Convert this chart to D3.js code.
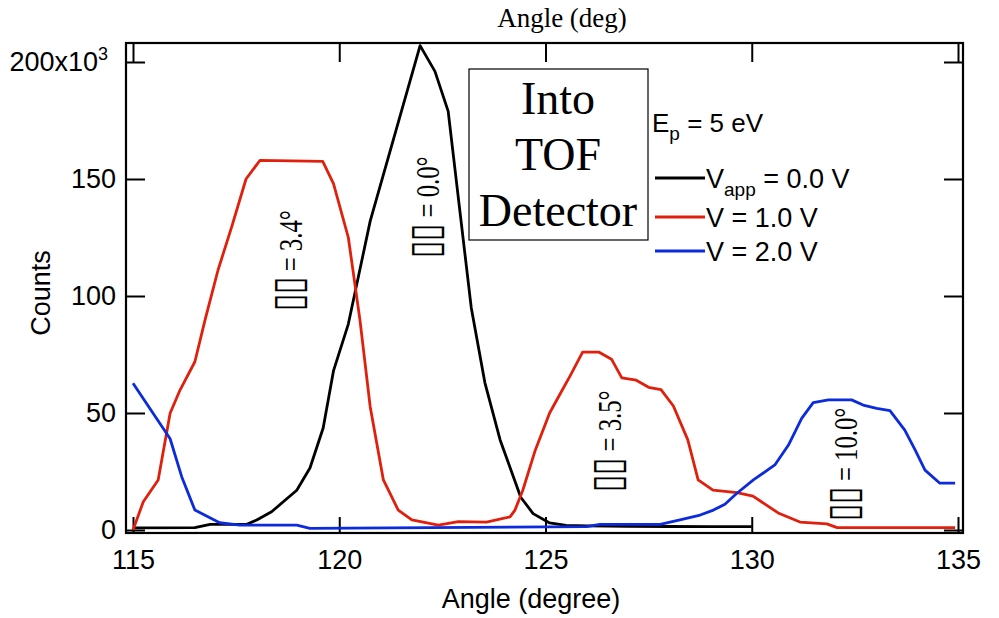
<!DOCTYPE html>
<html>
<head>
<meta charset="utf-8">
<script src="https://cdn.jsdelivr.net/npm/d3@7"></script>
<style>
  html, body { margin: 0; padding: 0; background: #fff; }
  svg { display: block; }
  .sans { font-family: "Liberation Sans", Arial, sans-serif; }
  .serif { font-family: "Liberation Serif", "Times New Roman", serif; }
</style>
</head>
<body>
<svg id="chart" width="999" height="618"></svg>
<script>
// ---------------- data ----------------
const xTicks = [115, 120, 125, 130, 135];
const yTicks = [0, 50, 100, 150, 200];
const yTickLabels = ["0", "50", "100", "150", "200x10"];

// V_app = 0.0 V (black)
const angles0 = [115.0, 116.5, 116.87, 117.76, 118.0, 118.36, 118.97, 119.29, 119.61, 119.86, 120.22, 120.75, 121.96, 122.32, 122.64, 123.2, 123.53, 123.9, 124.4, 124.7, 125.1, 125.5, 126.0, 127.0, 128.0, 129.0, 130.0];
const counts0 = [0.9, 1.0, 2.4, 2.4, 4.3, 7.8, 17, 26.5, 43.6, 68, 88, 132, 207, 196, 179, 95, 63, 38.5, 14, 7, 3, 2, 1.8, 1.6, 1.5, 1.4, 1.4];

// V = 1.0 V (red)
const angles1 = [115.0, 115.25, 115.61, 115.9, 116.14, 116.5, 116.75, 117.06, 117.4, 117.74, 118.08, 119.6, 119.86, 120.22, 120.5, 120.75, 121.07, 121.43, 121.76, 122.4, 122.89, 123.57, 124.14, 124.26, 124.45, 124.75, 125.1, 125.35, 125.6, 125.9, 126.3, 126.6, 126.85, 127.2, 127.5, 127.8, 128.1, 128.45, 128.7, 129.06, 129.64, 130.03, 130.64, 131.17, 131.82, 132.07, 134.93];
const counts1 = [0, 12.1, 21.4, 49.9, 59.8, 71.9, 90, 111, 130, 150, 158, 157.5, 148, 125, 90, 52.7, 21.4, 8.5, 4.3, 2.1, 3.6, 3.4, 5.6, 8.5, 17, 34, 50, 58, 66, 76, 76, 73, 65, 64, 61, 60, 53, 38.5, 21.4, 17, 16, 14.5, 7.3, 3.4, 2.6, 1.0, 1.0];

// V = 2.0 V (blue)
const angles2 = [115.0, 115.9, 116.18, 116.5, 117.1, 117.59, 118.97, 119.29, 126.0, 126.32, 127.78, 128.26, 128.75, 129.07, 129.35, 129.64, 130.04, 130.56, 130.89, 131.21, 131.49, 131.86, 132.42, 132.7, 133.03, 133.35, 133.71, 133.96, 134.2, 134.56, 134.93];
const counts2 = [62.7, 39, 22.8, 8.5, 3.1, 2.1, 2.1, 0.7, 1.4, 2.4, 2.4, 4.3, 6.4, 8.5, 11, 15.7, 21.4, 27.8, 36.3, 47.7, 54.4, 55.6, 55.6, 53.4, 52.0, 51, 42.7, 34.2, 25.6, 20, 20];

const seriesColors = ["#000000", "#e0200c", "#0b2bdc"];

const annotSymbol = "▯▯";
const annotations = [
  { label: " = 0.0°", angle: 122.15, count: 138 },
  { label: " = 3.4°", angle: 118.81, count: 115 },
  { label: " = 3.5°", angle: 126.54, count: 38 },
  { label: " = 10.0°", angle: 132.26, count: 28 }
];

// ---------------- layout ----------------
const svg = d3.select("#chart");
const frame = { left: 126, right: 963, top: 43, bottom: 533 };
const x = d3.scaleLinear().domain([115, 135]).range([133, 958]);
const y = d3.scaleLinear().domain([0, 150]).range([530, 179]);

// frame
svg.append("rect")
  .attr("x", frame.left).attr("y", frame.top)
  .attr("width", frame.right - frame.left).attr("height", frame.bottom - frame.top)
  .attr("fill", "none").attr("stroke", "#000").attr("stroke-width", 2.2);

// bottom axis
const gB = svg.append("g").attr("class", "sans")
  .attr("transform", `translate(0,${frame.bottom})`)
  .call(d3.axisBottom(x).tickValues(xTicks).tickSize(-16).tickPadding(17).tickFormat(d3.format("d")));
gB.select(".domain").remove();
gB.selectAll(".tick line").attr("stroke", "#000").attr("stroke-width", 2);
gB.selectAll(".tick text").attr("font-size", 27).attr("font-family", "Liberation Sans, Arial, sans-serif").attr("fill", "#000");

// top axis (ticks only)
const gT = svg.append("g")
  .attr("transform", `translate(0,${frame.top})`)
  .call(d3.axisTop(x).tickValues(xTicks).tickSize(-19).tickFormat(""));
gT.select(".domain").remove();
gT.selectAll(".tick line").attr("stroke", "#000").attr("stroke-width", 2);

// left axis
const gL = svg.append("g")
  .attr("transform", `translate(${frame.left},0)`)
  .call(d3.axisLeft(y).tickValues(yTicks).tickSize(-19).tickPadding(10)
    .tickFormat((d, i) => yTickLabels[i]));
gL.select(".domain").remove();
gL.selectAll(".tick line").attr("stroke", "#000").attr("stroke-width", 2);
gL.selectAll(".tick text").attr("font-size", 27).attr("font-family", "Liberation Sans, Arial, sans-serif").attr("fill", "#000");
gL.selectAll(".tick text").filter(d => d === 200)
  .attr("dx", -8)
  .append("tspan").attr("font-size", 18).attr("dy", -11).text("3");

// right axis (ticks only)
const gR = svg.append("g")
  .attr("transform", `translate(${frame.right},0)`)
  .call(d3.axisRight(y).tickValues(yTicks).tickSize(-19).tickFormat(""));
gR.select(".domain").remove();
gR.selectAll(".tick line").attr("stroke", "#000").attr("stroke-width", 2);

// axis titles
svg.append("text").attr("class", "sans")
  .attr("x", 531).attr("y", 608).attr("text-anchor", "middle")
  .attr("font-size", 27).text("Angle (degree)");
svg.append("text").attr("class", "sans")
  .attr("transform", "translate(50,293) rotate(-90)")
  .attr("text-anchor", "middle").attr("font-size", 27).text("Counts");
svg.append("text").attr("class", "serif")
  .attr("x", 562).attr("y", 27).attr("text-anchor", "middle")
  .attr("font-size", 27).text("Angle (deg)");

// ---------------- lines ----------------
const line = d3.line().x(d => x(d[0])).y(d => y(d[1]));
const allSeries = [
  d3.zip(angles0, counts0),
  d3.zip(angles1, counts1),
  d3.zip(angles2, counts2)
];
allSeries.forEach((s, i) => {
  svg.append("path").datum(s)
    .attr("d", line)
    .attr("fill", "none")
    .attr("stroke", seriesColors[i])
    .attr("stroke-width", 2.8)
    .attr("stroke-linejoin", "round");
});

// ---------------- annotations ----------------
annotations.forEach(a => {
  const t = svg.append("text").attr("class", "serif")
    .attr("transform", `translate(${x(a.angle)},${y(a.count)}) rotate(-90) scale(0.75,1)`)
    .attr("text-anchor", "middle").attr("dy", "0.35em")
    .attr("font-size", 33).attr("fill", "#000");
  t.append("tspan").attr("font-size", 42).attr("font-family", "DejaVu Sans, sans-serif")
    .attr("font-weight", "300").text(annotSymbol);
  t.append("tspan").text(a.label);
});

// ---------------- box ----------------
svg.append("rect")
  .attr("x", 469).attr("y", 69).attr("width", 179).attr("height", 171)
  .attr("fill", "#fff").attr("stroke", "#000").attr("stroke-width", 1.2);
const boxLines = ["Into", "TOF", "Detector"];
boxLines.forEach((t, i) => {
  svg.append("text").attr("class", "serif")
    .attr("x", 558).attr("y", 114 + i * 56)
    .attr("text-anchor", "middle").attr("font-size", 46).text(t);
});

// ---------------- legend ----------------
const ep = svg.append("text").attr("class", "sans")
  .attr("x", 652).attr("y", 132).attr("font-size", 26);
ep.append("tspan").text("E");
ep.append("tspan").attr("font-size", 19).attr("dy", 8).text("p");
ep.append("tspan").attr("dy", -8).text(" = 5 eV");

const legendY = [178, 217, 251];
const legendText = [
  ["V", "app", " = 0.0 V"],
  ["V", null, " = 1.0 V"],
  ["V", null, " = 2.0 V"]
];
legendText.forEach((parts, i) => {
  svg.append("line")
    .attr("x1", 655).attr("x2", 705)
    .attr("y1", legendY[i]).attr("y2", legendY[i])
    .attr("stroke", seriesColors[i]).attr("stroke-width", 2.8);
  const t = svg.append("text").attr("class", "sans")
    .attr("x", 706).attr("y", legendY[i] + 10).attr("font-size", 27);
  t.append("tspan").text(parts[0]);
  if (parts[1]) {
    t.append("tspan").attr("font-size", 19).attr("dy", 8).text(parts[1]);
    t.append("tspan").attr("dy", -8).text(parts[2]);
  } else {
    t.append("tspan").text(parts[2]);
  }
});
</script>
</body>
</html>
